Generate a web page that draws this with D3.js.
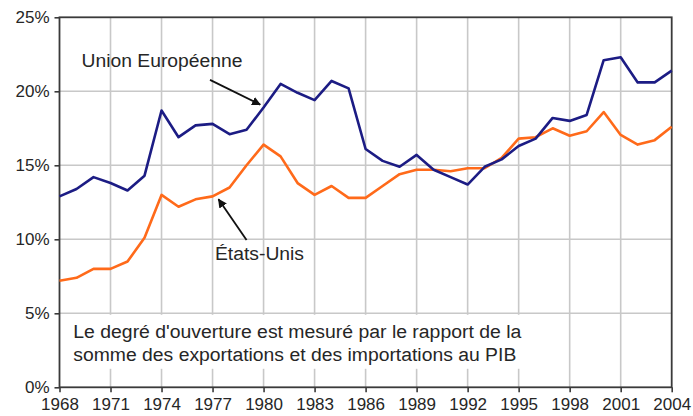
<!DOCTYPE html>
<html>
<head>
<meta charset="utf-8">
<script src="https://cdn.jsdelivr.net/npm/d3@7"></script>
<style>
  html, body { margin: 0; padding: 0; background: #fff; }
  svg { display: block; }
  text { font-family: "Liberation Sans", Arial, sans-serif; fill: #262626; }
</style>
</head>
<body>
<svg id="chart" width="693" height="416"></svg>
<script>
// ---- data ----
const years = [1968,1969,1970,1971,1972,1973,1974,1975,1976,1977,1978,1979,1980,1981,1982,1983,1984,1985,1986,1987,1988,1989,1990,1991,1992,1993,1994,1995,1996,1997,1998,1999,2000,2001,2002,2003,2004];
const euValues = [12.9,13.4,14.2,13.8,13.3,14.3,18.7,16.9,17.7,17.8,17.1,17.4,18.9,20.5,19.9,19.4,20.7,20.2,16.1,15.3,14.9,15.7,14.7,14.2,13.7,14.9,15.4,16.3,16.8,18.2,18.0,18.4,22.1,22.3,20.6,20.6,21.4];
const usValues = [7.2,7.4,8.0,8.0,8.5,10.1,13.0,12.2,12.7,12.9,13.5,15.0,16.4,15.6,13.8,13.0,13.6,12.8,12.8,13.6,14.4,14.7,14.7,14.6,14.8,14.8,15.5,16.8,16.9,17.5,17.0,17.3,18.6,17.05,16.4,16.7,17.6];
const xTickYears = [1968,1971,1974,1977,1980,1983,1986,1989,1992,1995,1998,2001,2004];
const yTickValues = [0,5,10,15,20,25];
const euLabel = "Union Européenne";
const usLabel = "États-Unis";
const noteLines = ["Le degré d'ouverture est mesuré par le rapport de la",
                   "somme des exportations et des importations au PIB"];

// ---- layout ----
const W = 693, H = 416;
const margin = {left: 59.5, right: 21.3, top: 17.3, bottom: 28.7};
const svg = d3.select("#chart");

const x = d3.scaleLinear().domain([1968, 2004]).range([margin.left, W - margin.right]);
const y = d3.scaleLinear().domain([0, 25]).range([H - margin.bottom, margin.top]);

// gridlines
const grid = svg.append("g");
grid.selectAll("line.v").data(xTickYears.slice(1, -1)).join("line")
  .attr("x1", d => x(d)).attr("x2", d => x(d))
  .attr("y1", y(25)).attr("y2", y(0))
  .attr("stroke", "#c8c8c8").attr("stroke-width", 1.6);
grid.selectAll("line.h").data(yTickValues.slice(1, -1)).join("line")
  .attr("x1", x(1968)).attr("x2", x(2004))
  .attr("y1", d => y(d)).attr("y2", d => y(d))
  .attr("stroke", "#c8c8c8").attr("stroke-width", 1.6);

// white box behind note
svg.append("rect")
  .attr("x", x(1968) + 2).attr("y", y(5) + 1.5)
  .attr("width", 468).attr("height", 54)
  .attr("fill", "#fff");

// frame
svg.append("rect")
  .attr("x", x(1968)).attr("y", y(25))
  .attr("width", x(2004) - x(1968)).attr("height", y(0) - y(25))
  .attr("fill", "none").attr("stroke", "#3a3a3a").attr("stroke-width", 1.8);

// axes
const xAxis = d3.axisBottom(x).tickValues(xTickYears).tickFormat(d3.format("d")).tickSize(5).tickPadding(6);
const yAxis = d3.axisLeft(y).tickValues(yTickValues).tickFormat(d => d + "%").tickSize(5).tickPadding(5);

const gx = svg.append("g").attr("transform", `translate(0,${y(0)})`).call(xAxis);
const gy = svg.append("g").attr("transform", `translate(${x(1968)},0)`).call(yAxis);
[gx, gy].forEach(g => {
  g.select(".domain").remove();
  g.selectAll(".tick line").attr("stroke", "#3a3a3a").attr("stroke-width", 1.6);
  g.selectAll(".tick text").style("font-family", "'Liberation Sans', Arial, sans-serif")
    .style("font-size", "17px").attr("fill", "#262626");
});
gx.selectAll(".tick text").attr("dy", "0.71em");

// lines
const line = d3.line().x((d, i) => x(years[i])).y(d => y(d));
svg.append("path").datum(usValues).attr("d", line)
  .attr("fill", "none").attr("stroke", "#ff6a1a").attr("stroke-width", 2.6).attr("stroke-linejoin", "round");
svg.append("path").datum(euValues).attr("d", line)
  .attr("fill", "none").attr("stroke", "#1c1c84").attr("stroke-width", 2.6).attr("stroke-linejoin", "round");

// arrow marker
svg.append("defs").append("marker")
  .attr("id", "arr").attr("viewBox", "0 0 10 10").attr("refX", 9).attr("refY", 5)
  .attr("markerWidth", 5).attr("markerHeight", 5).attr("orient", "auto")
  .append("path").attr("d", "M0,0 L10,5 L0,10 Z").attr("fill", "#111");

// annotations
svg.append("line")
  .attr("x1", x(1976.85)).attr("y1", y(20.77))
  .attr("x2", x(1979.8)).attr("y2", y(19.1))
  .attr("stroke", "#111").attr("stroke-width", 1.8).attr("marker-end", "url(#arr)");
svg.append("line")
  .attr("x1", x(1979.0)).attr("y1", y(9.95))
  .attr("x2", x(1977.35)).attr("y2", y(12.7))
  .attr("stroke", "#111").attr("stroke-width", 1.8).attr("marker-end", "url(#arr)");

svg.append("text").attr("x", 81.5).attr("y", 66.5)
  .attr("textLength", 161).attr("lengthAdjust", "spacingAndGlyphs")
  .style("font-size", "18px").text(euLabel);
svg.append("text").attr("x", 215).attr("y", 260)
  .attr("textLength", 89).attr("lengthAdjust", "spacingAndGlyphs")
  .style("font-size", "18px").text(usLabel);

svg.append("text").attr("x", 73.3).attr("y", 338.3)
  .attr("textLength", 448).attr("lengthAdjust", "spacingAndGlyphs")
  .style("font-size", "18px").text(noteLines[0]);
svg.append("text").attr("x", 73.3).attr("y", 360.5)
  .attr("textLength", 443).attr("lengthAdjust", "spacingAndGlyphs")
  .style("font-size", "18px").text(noteLines[1]);
</script>
</body>
</html>
